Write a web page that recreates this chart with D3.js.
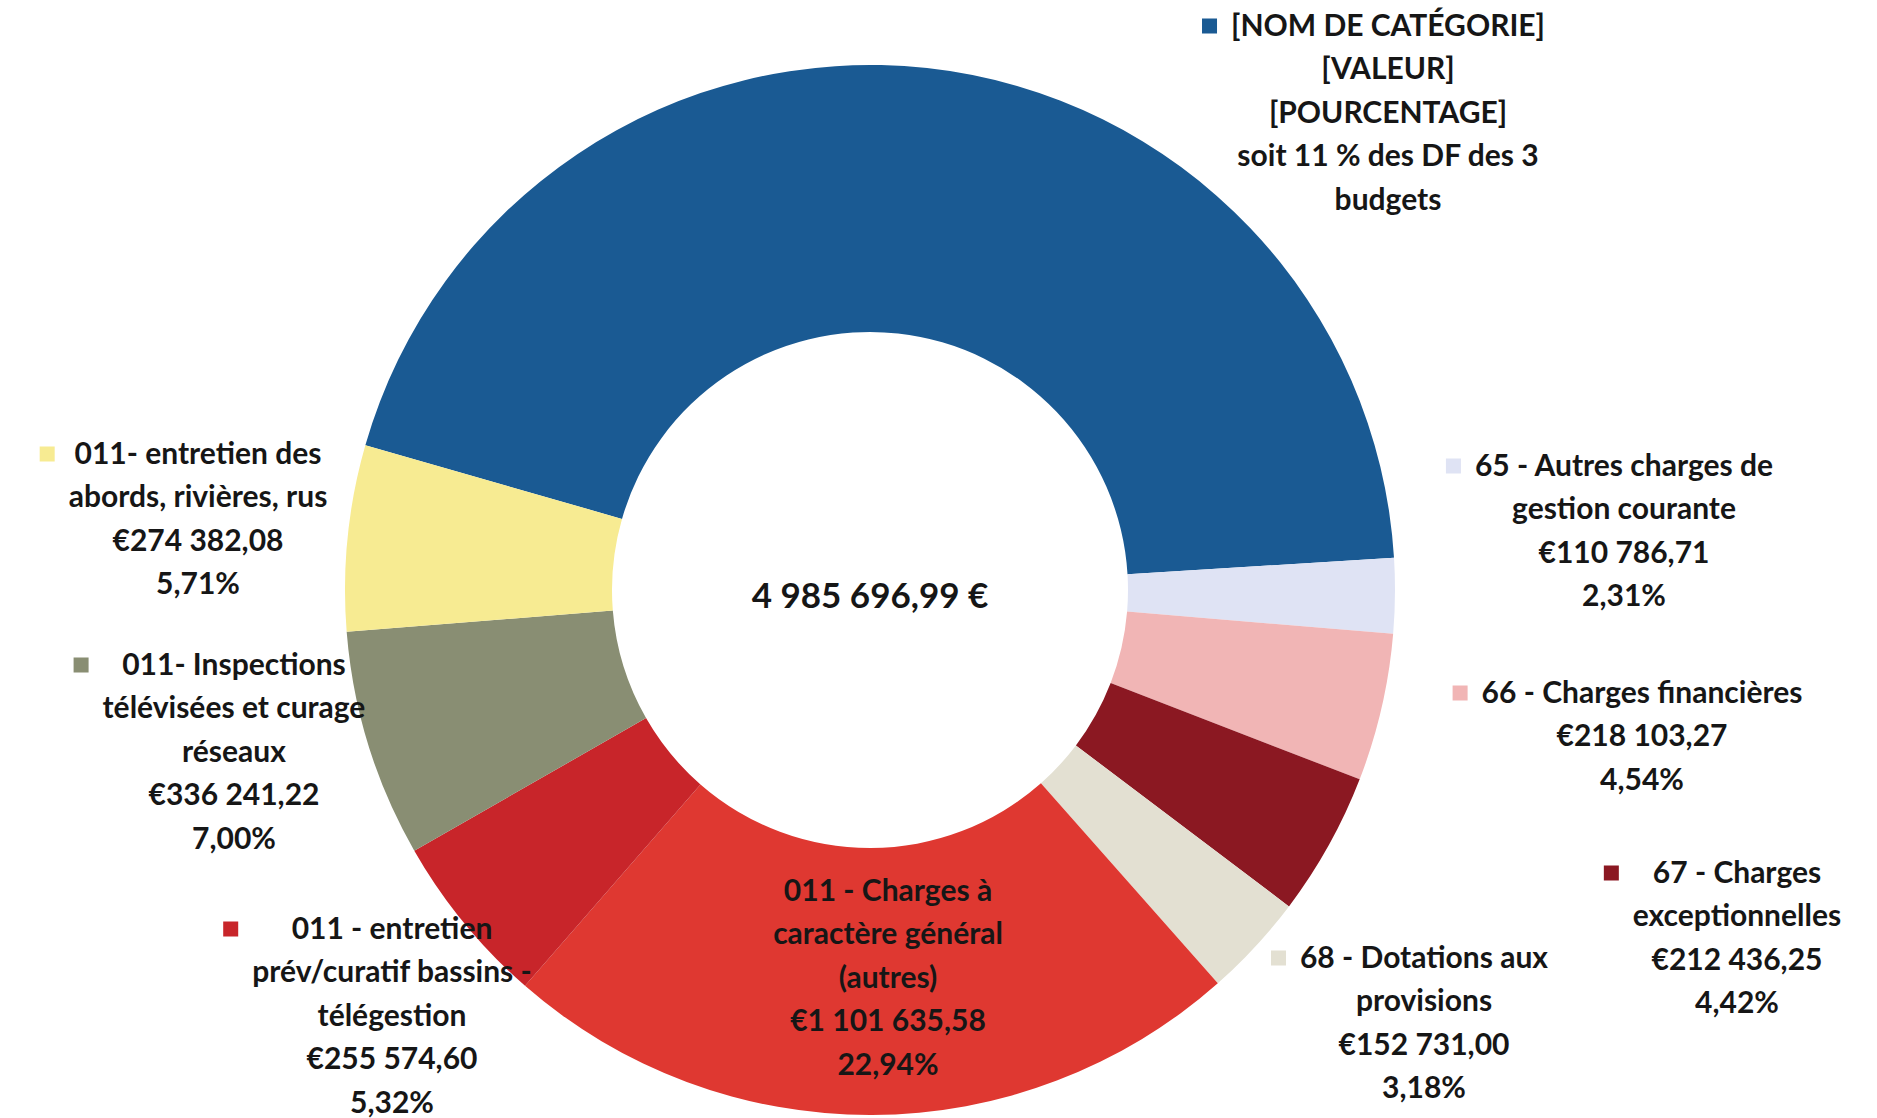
<!DOCTYPE html>
<html>
<head>
<meta charset="utf-8">
<script src="https://cdn.jsdelivr.net/npm/d3@7"></script>
<style>
  html, body { margin: 0; padding: 0; background: #ffffff; }
  svg { display: block; }
  text { font-family: Lato, "Open Sans", sans-serif; font-weight: 700; fill: #161616; }
</style>
</head>
<body>
<svg id="chart" width="1877" height="1118"></svg>
<script>
// ---- data ----
const categories = [
  "[NOM DE CATÉGORIE]",
  "65 - Autres charges de gestion courante",
  "66 - Charges financières",
  "67 - Charges exceptionnelles",
  "68 - Dotations aux provisions",
  "011 - Charges à caractère général (autres)",
  "011 - entretien prév/curatif bassins - télégestion",
  "011-  Inspections télévisées et curage réseaux",
  "011- entretien des abords, rivières, rus"
];
const values = [2141200, 110786.71, 218103.27, 212436.25, 152731.00, 1101635.58, 255574.60, 336241.22, 274382.08];
const nameLines = [
  ["[NOM DE CATÉGORIE]"],
  ["65 - Autres charges de", "gestion courante"],
  ["66 - Charges financières"],
  ["67 - Charges", "exceptionnelles"],
  ["68 - Dotations aux", "provisions"],
  ["011 - Charges à", "caractère général", "(autres)"],
  ["011 - entretien", "prév/curatif bassins -", "télégestion"],
  ["011-  Inspections", "télévisées et curage", "réseaux"],
  ["011- entretien des", "abords, rivières, rus"]
];
const valueLabels = ["[VALEUR]", "€110 786,71", "€218 103,27", "€212 436,25", "€152 731,00", "€1 101 635,58", "€255 574,60", "€336 241,22", "€274 382,08"];
const percentLabels = ["[POURCENTAGE]", "2,31%", "4,54%", "4,42%", "3,18%", "22,94%", "5,32%", "7,00%", "5,71%"];
const extraLines = [["soit 11 % des DF des 3", "budgets"], [], [], [], [], [], [], [], []];
const totalLabel = "4 985 696,99 €";

// ---- style / layout ----
const colors = ["#1a5a93", "#dfe3f4", "#f1b5b5", "#8b1822", "#e3e0d2", "#df3831", "#c8252a", "#898e73", "#f7eb92"];
const showMarker = [true, true, true, true, true, false, true, true, true];
// top-line centre of each label
const labelPos = [
  [1388, 28], [1624, 468], [1642, 695], [1737, 875], [1424, 960],
  [888, 893], [392, 931], [234, 667], [198, 456]
];
const lineH = 43.6;
const fontSize = 30;

const cx = 870, cy = 590, R = 525, R0 = 258;
const start = -74 * Math.PI / 180;

const svg = d3.select("#chart");
const pie = d3.pie().sort(null).value(d => d).startAngle(start).endAngle(start + 2 * Math.PI);
const arc = d3.arc().innerRadius(R0).outerRadius(R);
const arcs = pie(values);

svg.append("g").attr("transform", `translate(${cx},${cy})`)
  .selectAll("path").data(arcs).join("path")
  .attr("d", arc)
  .attr("fill", (d, i) => colors[i]);

// centre total
svg.append("text")
  .attr("x", cx).attr("y", cy + 9)
  .attr("text-anchor", "middle").attr("dominant-baseline", "middle")
  .style("font-size", "35px")
  .text(totalLabel);

// labels
categories.forEach((c, i) => {
  const lines = nameLines[i].concat([valueLabels[i], percentLabels[i]]).concat(extraLines[i]);
  const [lx, ly] = labelPos[i];
  const g = svg.append("g");
  const t = g.append("text")
    .attr("text-anchor", "middle")
    .style("font-size", fontSize + "px");
  t.selectAll("tspan").data(lines).join("tspan")
    .attr("x", lx)
    .attr("y", (d, k) => ly + k * lineH)
    .attr("dominant-baseline", "middle")
    .text(d => d);
  if (showMarker[i]) {
    let maxW = 0;
    t.selectAll("tspan").each(function () { maxW = Math.max(maxW, this.getComputedTextLength()); });
    const s = 15;
    g.append("rect")
      .attr("x", lx - maxW / 2 - 14 - s)
      .attr("y", ly - s / 2 - 2)
      .attr("width", s).attr("height", s)
      .attr("fill", colors[i]);
  }
});
</script>
</body>
</html>
